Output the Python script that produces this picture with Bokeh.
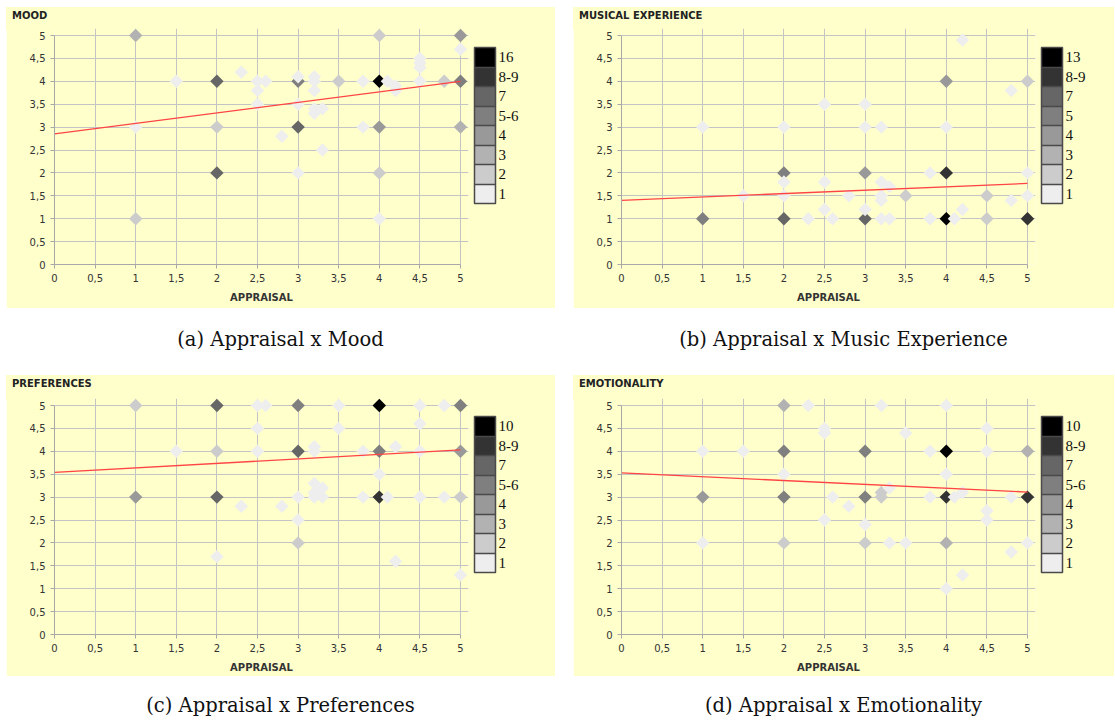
import numpy as np
from bokeh.plotting import figure
from bokeh.models import (ColorBar, LinearColorMapper, FixedTicker, Range1d,
                          Div, Spacer)
from bokeh.layouts import column, row
from bokeh.embed import file_html
from bokeh.resources import INLINE

# ---------------- data ----------------
axis_ticks = [0, 0.5, 1, 1.5, 2, 2.5, 3, 3.5, 4, 4.5, 5]
axis_tick_labels = ["0", "0,5", "1", "1,5", "2", "2,5", "3", "3,5", "4", "4,5", "5"]
x_label = "APPRAISAL"

# gray scale for count buckets (1, 2, 3, 4, 5-6, 7, 8-9, max)
grays = ["#EEEEEE", "#CCCCCC", "#B2B2B2", "#999999", "#7F7F7F", "#666666", "#333333", "#000000"]

mood_x = [1, 1, 1, 1.5, 2, 2, 2, 2.3, 2.5, 2.5, 2.5, 2.6, 2.8, 3, 3, 3, 3, 3,
          3.2, 3.2, 3.2, 3.2, 3.2, 3.3, 3.3, 3.5, 3.8, 3.8, 4, 4, 4, 4, 4,
          4.1, 4.2, 4.2, 4.5, 4.5, 4.5, 4.5, 4.8, 5, 5, 5, 5]
mood_y = [5, 3, 1, 4, 4, 3, 2, 4.2, 4, 3.8, 3.5, 4, 2.8, 4.1, 4, 3.5, 3, 2,
          4.1, 4.0, 3.8, 3.4, 3.3, 3.4, 2.5, 4, 4, 3, 5, 4, 3, 2, 1,
          4, 3.9, 3.8, 4.5, 4.4, 4.3, 4, 4, 5, 4.7, 4, 3]
mood_n = [3, 1, 2, 1, 7, 2, 7, 1, 1, 1, 1, 1, 1, 1, 5, 1, 7, 1,
          1, 1, 1, 1, 1, 1, 1, 2, 1, 1, 2, 16, 4, 2, 1,
          1, 1, 1, 1, 1, 1, 1, 2, 4, 1, 5, 3]
mood_legend = ["1", "2", "3", "4", "5-6", "7", "8-9", "16"]
mood_fit = [2.85, 4.0]

music_x = [1, 1, 1.5, 2, 2, 2, 2, 2, 2.3, 2.5, 2.5, 2.5, 2.6, 2.8, 3, 3, 3, 3, 3,
           3.2, 3.2, 3.3, 3.2, 3.2, 3.2, 3.3, 3.5, 3.8, 3.8, 4, 4, 4, 4,
           4.1, 4.2, 4.2, 4.5, 4.5, 4.8, 4.8, 5, 5, 5, 5]
music_y = [3, 1, 1.5, 3, 2, 1.8, 1.5, 1, 1, 3.5, 1.8, 1.2, 1, 1.5, 3.5, 3, 2, 1.2, 1,
           3, 1.8, 1.7, 1.5, 1.4, 1, 1, 1.5, 2, 1, 4, 3, 2, 1,
           1, 4.9, 1.2, 1.5, 1, 3.8, 1.4, 4, 2, 1.5, 1]
music_n = [1, 5, 1, 1, 5, 1, 1, 7, 1, 1, 1, 1, 1, 1, 1, 1, 4, 1, 7,
           1, 1, 1, 1, 1, 1, 1, 2, 1, 1, 4, 1, 8, 13,
           1, 1, 1, 2, 2, 1, 1, 2, 1, 1, 8]
music_legend = ["1", "2", "3", "4", "5", "7", "8-9", "13"]
music_fit = [1.40, 1.77]

pref_x = [1, 1, 1.5, 2, 2, 2, 2, 2.3, 2.5, 2.6, 2.5, 2.5, 2.8, 3, 3, 3, 3, 3,
          3.2, 3.2, 3.2, 3.2, 3.2, 3.3, 3.3, 3.5, 3.5, 3.8, 3.8, 4, 4, 4, 4,
          4.1, 4.2, 4.2, 4.5, 4.5, 4.5, 4.5, 4.8, 4.8, 5, 5, 5, 5]
pref_y = [5, 3, 4, 5, 4, 3, 1.7, 2.8, 5, 5, 4.5, 4, 2.8, 5, 4, 3, 2.5, 2,
          4.1, 4.0, 3.3, 3.1, 3.0, 3.2, 3.0, 5, 4.5, 4, 3, 5, 4, 3.5, 3,
          3, 4.1, 1.6, 5, 4.6, 4, 3, 5, 3, 5, 4, 3, 1.3]
pref_n = [2, 4, 1, 7, 2, 7, 1, 1, 1, 1, 1, 1, 1, 5, 7, 1, 1, 2,
          1, 1, 1, 1, 1, 1, 1, 1, 1, 1, 1, 10, 5, 1, 8,
          1, 1, 1, 1, 1, 1, 1, 1, 1, 5, 4, 2, 1]
pref_legend = ["1", "2", "3", "4", "5-6", "7", "8-9", "10"]
pref_fit = [3.54, 4.03]

emo_x = [1, 1, 1, 1.5, 2, 2, 2, 2, 2, 2.3, 2.5, 2.5, 2.5, 2.6, 2.8, 3, 3, 3, 3,
         3.2, 3.2, 3.2, 3.3, 3.3, 3.5, 3.5, 3.8, 3.8, 4, 4, 4, 4, 4, 4,
         4.1, 4.2, 4.2, 4.5, 4.5, 4.5, 4.5, 4.8, 4.8, 5, 5, 5]
emo_y = [4, 3, 2, 4, 5, 4, 3.5, 3, 2, 5, 4.5, 4.4, 2.5, 3, 2.8, 4, 3, 2.4, 2,
         5, 3.1, 3.0, 3.2, 2, 4.4, 2, 4, 3, 5, 4, 3.5, 3, 2, 1,
         3, 3.1, 1.3, 4.5, 4, 2.7, 2.5, 3, 1.8, 4, 3, 2]
emo_n = [1, 4, 1, 1, 3, 5, 1, 5, 2, 1, 1, 1, 1, 1, 1, 5, 5, 1, 2,
         1, 2, 2, 1, 1, 1, 1, 1, 1, 1, 10, 1, 8, 3, 1,
         1, 1, 1, 1, 1, 1, 1, 1, 1, 3, 8, 1]
emo_legend = ["1", "2", "3", "4", "5-6", "7", "8-9", "10"]
emo_fit = [3.53, 3.11]

fit_x = [0, 5]

panels = [
    ("MOOD", mood_x, mood_y, mood_n, mood_legend, mood_fit, "(a) Appraisal x Mood"),
    ("MUSICAL EXPERIENCE", music_x, music_y, music_n, music_legend, music_fit,
     "(b) Appraisal x Music Experience"),
    ("PREFERENCES", pref_x, pref_y, pref_n, pref_legend, pref_fit, "(c) Appraisal x Preferences"),
    ("EMOTIONALITY", emo_x, emo_y, emo_n, emo_legend, emo_fit, "(d) Appraisal x Emotionality"),
]

YELLOW = "#FFFFCC"
TICK_FONT = "DejaVu Sans"

# frame: data 0..5 spans 406 x 229 px; a few extra px so edge diamonds are not cut
FW, FH = 414, 236
X_END = 5 * FW / 406
Y_END = 5 * FH / 229


def bucket(n):
    if n <= 4:
        return n - 1
    if n <= 6:
        return 4
    if n == 7:
        return 5
    if n <= 9:
        return 6
    return 7


def make_panel(title, xs, ys, ns, legend_labels, fit, width, top, bottom):
    left = 48
    height = FH + bottom
    p = figure(width=width, height=height,
               x_range=Range1d(0, X_END), y_range=Range1d(0, Y_END),
               min_border_left=left, min_border_right=width - left - FW,
               min_border_top=0, min_border_bottom=bottom,
               output_backend="svg", toolbar_location=None,
               background_fill_color=YELLOW, border_fill_color=YELLOW)
    p.outline_line_color = None

    for ax in (p.xaxis[0], p.yaxis[0]):
        ax.ticker = FixedTicker(ticks=axis_ticks)
        ax.bounds = (0, 5)
        ax.major_label_overrides = {t: l for t, l in zip(axis_ticks, axis_tick_labels)}
        ax.major_label_text_font = TICK_FONT
        ax.major_label_text_font_size = "10px"
        ax.major_label_text_color = "#333333"
        ax.axis_line_color = "#A8A8A8"
        ax.major_tick_line_color = "#A8A8A8"
        ax.major_tick_in = 0
        ax.major_tick_out = 4
        ax.minor_tick_line_color = None
        ax.major_label_standoff = 5
    p.xaxis.axis_label = x_label
    p.xaxis.axis_label_text_font = TICK_FONT
    p.xaxis.axis_label_text_font_size = "10px"
    p.xaxis.axis_label_text_font_style = "bold"
    p.xaxis.axis_label_text_color = "#333333"
    p.xaxis.axis_label_standoff = 7
    for g in (p.xgrid[0], p.ygrid[0]):
        g.ticker = FixedTicker(ticks=axis_ticks)
        g.bounds = (0, 5)
        g.grid_line_color = "#C4C4C4"

    order = np.argsort(-np.array(ns), kind="stable")
    sx = [xs[i] for i in order]
    sy = [ys[i] for i in order]
    sc = [grays[bucket(ns[i])] for i in order]
    p.scatter(sx, sy, marker="square", angle=np.pi / 4, size=9.5,
              fill_color=sc, line_color=None)
    p.line(fit_x, fit, line_color="#FF4444", line_width=1.3)

    mapper = LinearColorMapper(palette=grays, low=0, high=8)
    centers = [i + 0.5 for i in range(8)]
    cb_top = 40 if top < 22 else 41
    cb_bottom_gap = FH - (cb_top - top) - 156
    cb = ColorBar(color_mapper=mapper, width=21, height=156,
                  ticker=FixedTicker(ticks=centers, minor_ticks=list(range(1, 8))),
                  major_label_overrides={c: l for c, l in zip(centers, legend_labels)},
                  major_label_text_font="Liberation Serif",
                  major_label_text_font_size="15px",
                  major_label_text_color="#111111",
                  label_standoff=3,
                  major_tick_line_color=None,
                  minor_tick_line_color="#4A4A4A", minor_tick_line_width=1.5,
                  minor_tick_in=21, minor_tick_out=0,
                  bar_line_color="#4A4A4A", bar_line_width=1.5,
                  background_fill_color=None, border_line_color=None,
                  padding=0, margin=0, location=(6, cb_bottom_gap))
    p.add_layout(cb, "right")

    head = Div(text=("<div style=\"width:%dpx;height:%dpx;background:%s;box-sizing:border-box;"
                     "padding:1px 0 0 6px;font-family:'DejaVu Sans';font-size:10px;"
                     "font-weight:bold;line-height:12px;color:#222;\">%s</div>"
                     % (width, top, YELLOW, title)),
               width=width, height=top, margin=0,
               styles={"background-color": YELLOW})
    return column(head, p, spacing=0)


def caption(text, width, height, pad):
    html = ("<div style=\"width:%dpx;text-align:center;font-family:'DejaVu Serif';"
            "font-size:19.5px;line-height:22px;padding-top:%dpx;color:#111;\">%s</div>"
            % (width, pad, text))
    return Div(text=html, width=width, height=height, margin=0)


WA, WB = 549, 541
tops = [21, 21, 23, 23]
bottoms = [44, 44, 42, 42]
figs = [make_panel(t, x, y, n, lg, f, (WA if i % 2 == 0 else WB), tops[i], bottoms[i])
        for i, (t, x, y, n, lg, f, c) in enumerate(panels)]
caps = [c for (*_, c) in panels]

layout = column(
    Spacer(width=10, height=7),
    row(Spacer(width=6, height=301), figs[0], Spacer(width=18, height=301), figs[1]),
    row(Spacer(width=6, height=67), caption(caps[0], WA, 67, 21), Spacer(width=18, height=67),
        caption(caps[1], WB, 67, 21)),
    row(Spacer(width=6, height=301), figs[2], Spacer(width=18, height=301), figs[3]),
    row(Spacer(width=6, height=44), caption(caps[2], WA, 44, 19), Spacer(width=18, height=44),
        caption(caps[3], WB, 44, 19)),
)

open("out.html", "w").write(file_html(layout, INLINE))
